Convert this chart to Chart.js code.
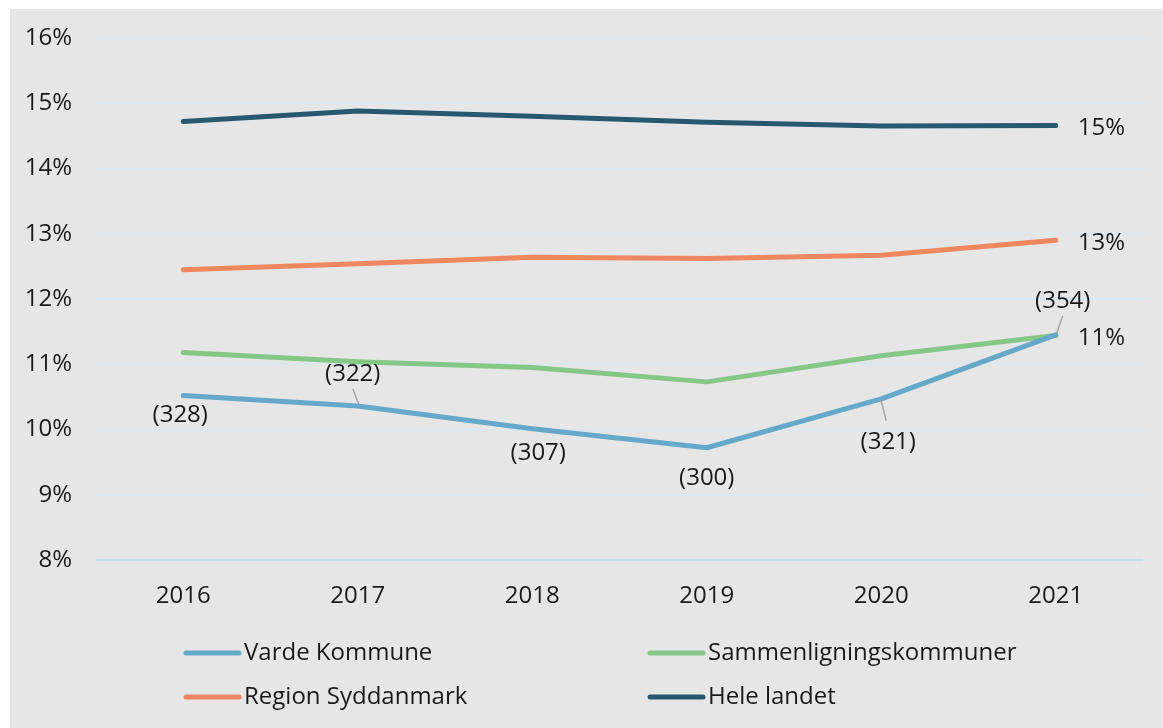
<!DOCTYPE html>
<html>
<head>
<meta charset="utf-8">
<script src="https://cdn.jsdelivr.net/npm/chart.js@4.4.1/dist/chart.umd.min.js"></script>
<style>
  html, body { margin: 0; padding: 0; background: #ffffff; }
  #ramme { position: absolute; left: 10px; top: 9px; width: 1153px; height: 719px; background: #e6e6e6; }
  #ramme canvas { display: block; }
</style>
</head>
<body>
<div id="ramme"><canvas id="graf" width="1153" height="719"></canvas></div>
<script>
const aar = ['2016', '2017', '2018', '2019', '2020', '2021'];
const yTicks = [8, 9, 10, 11, 12, 13, 14, 15, 16];

const varde = [10.52, 10.36, 10.01, 9.72, 10.47, 11.45];
const sammenligning = [11.18, 11.04, 10.95, 10.73, 11.13, 11.44];
const region = [12.45, 12.54, 12.64, 12.62, 12.67, 12.90];
const heleLandet = [14.72, 14.88, 14.80, 14.71, 14.65, 14.66];

const vardeAntal = ['(328)', '(322)', '(307)', '(300)', '(321)', '(354)'];
const slutEtiketter = ['15%', '13%', '11%'];

// placering af etiketter for Varde (dx, dy fra punktet, og om der er en streg)
const etiketPlacering = [
  { dx: -3, dy: 20, streg: false },
  { dx: -5, dy: -32, streg: true },
  { dx: 6, dy: 24, streg: false },
  { dx: 0, dy: 30, streg: false },
  { dx: 7, dy: 43, streg: true },
  { dx: 7, dy: -34, streg: true },
];

const farver = {
  varde: '#65a8c9',
  sammen: '#85c785',
  region: '#ee8660',
  hele: '#275870',
};

const skrift = '"Open Sans", "Noto Sans", sans-serif';

const etiketPlugin = {
  id: 'etiketter',
  afterDatasetsDraw(chart) {
    const ctx = chart.ctx;
    ctx.save();
    ctx.font = '24px ' + skrift;
    ctx.fillStyle = '#1a1a1a';
    ctx.textAlign = 'center';
    ctx.textBaseline = 'middle';

    const punkter = chart.getDatasetMeta(0).data;
    punkter.forEach((p, i) => {
      const pl = etiketPlacering[i];
      const tx = p.x + pl.dx;
      const ty = p.y + pl.dy;
      if (pl.streg) {
        ctx.strokeStyle = '#a6a6a6';
        ctx.lineWidth = 1.5;
        ctx.beginPath();
        if (pl.dy < 0) {
          ctx.moveTo(tx, ty + 15);
          ctx.lineTo(p.x + 1, p.y - 2);
        } else {
          ctx.moveTo(p.x, p.y + 2);
          ctx.lineTo(tx - 2, ty - 21);
        }
        ctx.stroke();
      }
      ctx.fillText(vardeAntal[i], tx, ty);
    });

    // slutetiketter til højre
    ctx.textAlign = 'left';
    const sidste = aar.length - 1;
    [3, 2, 1].forEach((ds, k) => {
      const p = chart.getDatasetMeta(ds).data[sidste];
      ctx.fillText(slutEtiketter[k], p.x + 22, p.y + 3);
    });
    ctx.restore();
  },
  afterDraw(chart) {
    // forklaring i to kolonner
    const ctx = chart.ctx;
    ctx.save();
    ctx.font = '24px ' + skrift;
    ctx.fillStyle = '#1a1a1a';
    ctx.textBaseline = 'middle';
    const kol = [174, 638];
    const rk = [644, 688];
    chart.data.datasets.forEach((ds, i) => {
      const x = kol[i % 2];
      const y = rk[Math.floor(i / 2)];
      ctx.strokeStyle = ds.borderColor;
      ctx.lineWidth = 5;
      ctx.lineCap = 'round';
      ctx.beginPath();
      ctx.moveTo(x + 2, y);
      ctx.lineTo(x + 55, y);
      ctx.stroke();
      ctx.fillText(ds.label, x + 60, y);
    });
    ctx.restore();
  },
};

const linje = (label, data, farve) => ({
  label: label,
  data: data,
  borderColor: farve,
  backgroundColor: farve,
  borderWidth: 5,
  borderCapStyle: 'round',
  borderJoinStyle: 'round',
  pointRadius: 0,
  tension: 0,
  clip: false,
});

new Chart(document.getElementById('graf'), {
  type: 'line',
  data: {
    labels: aar,
    datasets: [
      linje('Varde Kommune', varde, farver.varde),
      linje('Sammenligningskommuner', sammenligning, farver.sammen),
      linje('Region Syddanmark', region, farver.region),
      linje('Hele landet', heleLandet, farver.hele),
    ],
  },
  options: {
    responsive: false,
    animation: false,
    layout: { padding: { top: 29, right: 20, bottom: 108, left: 0 } },
    plugins: {
      legend: { display: false },
      tooltip: { enabled: false },
    },
    scales: {
      x: {
        offset: true,
        grid: { display: false, drawTicks: false },
        border: { display: false },
        ticks: { color: '#1a1a1a', font: { family: skrift, size: 24 }, padding: 22, maxRotation: 0 },
        afterFit(s) { s.height = 60; s.paddingLeft = 0; s.paddingRight = 0; },
      },
      y: {
        min: 8,
        max: 16,
        afterBuildTicks(s) { s.ticks = yTicks.map(v => ({ value: v })); },
        grid: {
          drawTicks: false,
          color: ctx => ctx.tick.value === 8 ? '#c6dde8' : '#dbe8f0',
          lineWidth: 2,
        },
        border: { display: false },
        ticks: {
          color: '#1a1a1a',
          font: { family: skrift, size: 24 },
          padding: 24,
          callback: v => v + '%',
        },
        afterFit(s) { s.width = 86; s.paddingTop = 0; s.paddingBottom = 0; },
      },
    },
  },
  plugins: [etiketPlugin],
});
</script>
</body>
</html>
